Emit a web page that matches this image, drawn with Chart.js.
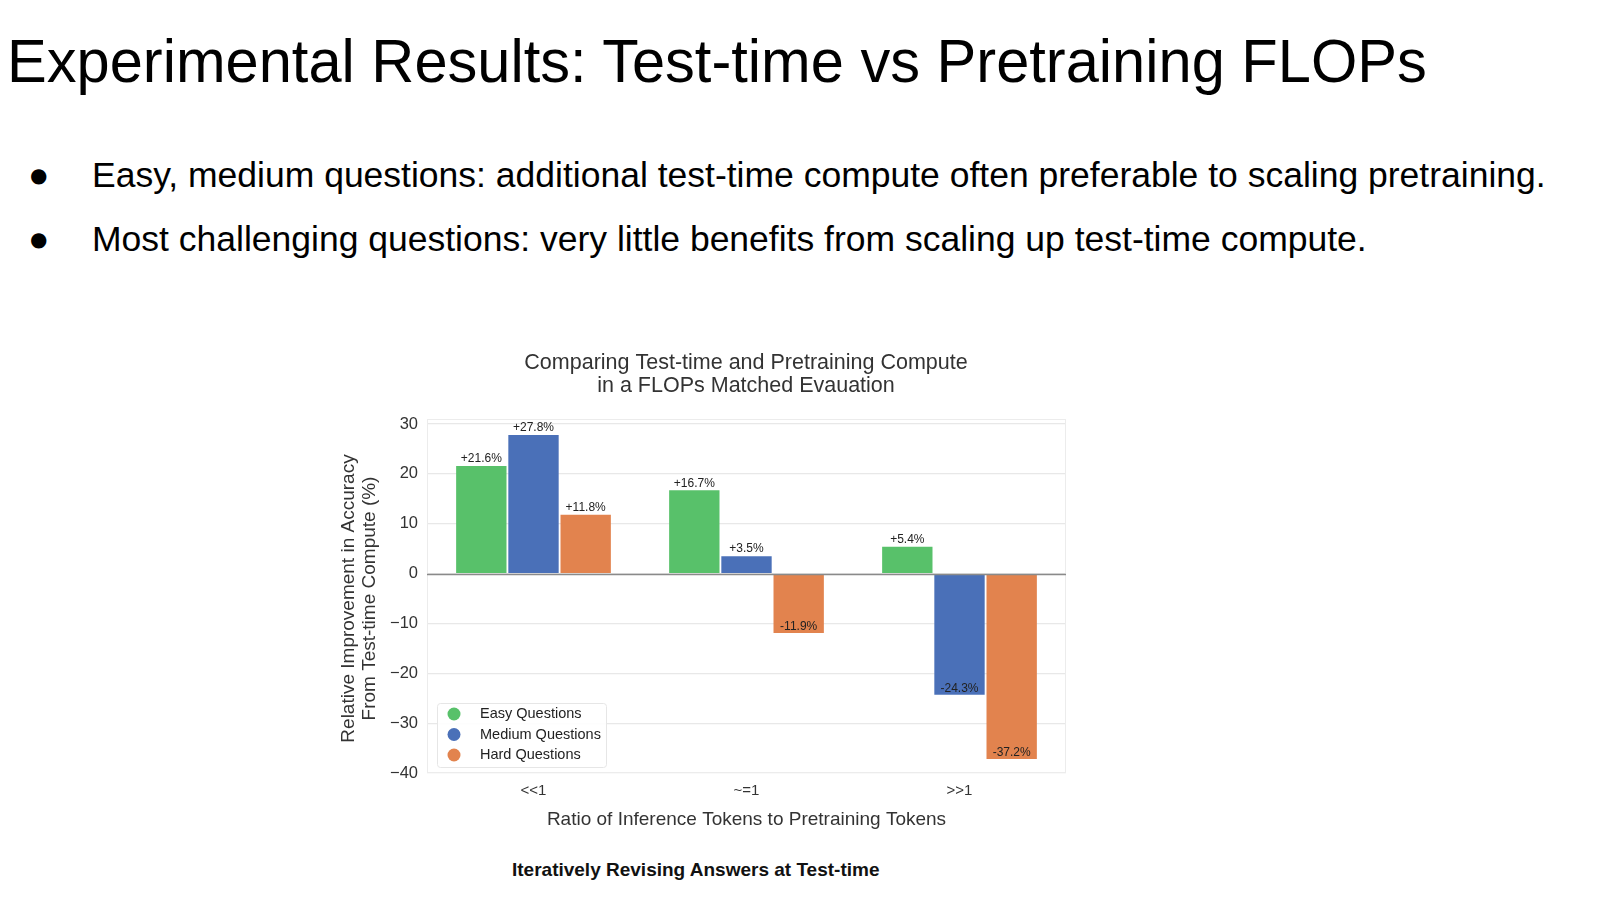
<!DOCTYPE html>
<html>
<head>
<meta charset="utf-8">
<script src="https://cdn.jsdelivr.net/npm/chart.js@4.4.1/dist/chart.umd.min.js"></script>
<style>
  html, body { margin:0; padding:0; background:#fff; width:1600px; height:899px; overflow:hidden; font-family:"Liberation Sans", Arial, sans-serif; color:#000; }
  .abs { position:absolute; white-space:nowrap; line-height:1; }
  #title { left:7px; top:31px; font-size:61px; transform-origin:0 0; transform:scaleX(0.977); }
  .bullet { left:28px; font-size:35.5px; transform-origin:0 0; }
  .bullet .dot { display:inline-block; width:64px; }
  #chartBox { position:absolute; left:330px; top:340px; width:832px; height:513px; }
  #caption { left:512px; top:860px; font-size:19px; font-weight:bold; color:#111; }
</style>
</head>
<body>
<div id="title" class="abs">Experimental Results: Test-time vs Pretraining FLOPs</div>
<div class="abs bullet" style="top:158px"><span class="dot">●</span>Easy, medium questions: additional test-time compute often preferable to scaling pretraining.</div>
<div class="abs bullet" style="top:222px"><span class="dot">●</span>Most challenging questions: very little benefits from scaling up test-time compute.</div>
<div id="chartBox"><canvas id="c"></canvas></div>
<div id="caption" class="abs">Iteratively Revising Answers at Test-time</div>
<script>
const categories = ["<<1", "~=1", ">>1"];
const easyValues = [21.6, 16.7, 5.4];
const mediumValues = [27.8, 3.5, -24.3];
const hardValues = [11.8, -11.9, -37.2];
const seriesLabels = ["Easy Questions", "Medium Questions", "Hard Questions"];
const seriesColors = ["#58c16a", "#4a70b8", "#e2834e"];
const yTicks = [-40, -30, -20, -10, 0, 10, 20, 30];
const chartTitle = ["Comparing Test-time and Pretraining Compute", "in a FLOPs Matched Evauation"];
const yTitle = ["Relative Improvement in Accuracy", "From Test-time Compute (%)"];
const xTitle = "Ratio of Inference Tokens to Pretraining Tokens";

const FONT = "'Liberation Sans', Arial, sans-serif";

const extrasPlugin = {
  id: 'extras',
  beforeDatasetsDraw(chart) {
    const {ctx, chartArea: a} = chart;
    ctx.save();
    ctx.strokeStyle = '#ececec';
    ctx.lineWidth = 1;
    ctx.strokeRect(a.left + 0.5, a.top - 4.5, a.right - a.left - 1, a.bottom - a.top + 4);
    ctx.restore();
  },
  afterDatasetsDraw(chart) {
    const {ctx, chartArea: a, scales: {y}} = chart;
    ctx.save();
    // zero line
    const y0 = Math.round(y.getPixelForValue(0)) + 0.5;
    ctx.strokeStyle = '#8a8a8a';
    ctx.lineWidth = 1.5;
    ctx.beginPath(); ctx.moveTo(a.left, y0); ctx.lineTo(a.right, y0); ctx.stroke();
    // data labels
    ctx.font = "12px " + FONT;
    ctx.fillStyle = '#222';
    ctx.textAlign = 'center';
    chart.data.datasets.forEach((ds, di) => {
      const meta = chart.getDatasetMeta(di);
      meta.data.forEach((bar, i) => {
        const v = ds.data[i];
        const txt = (v > 0 ? '+' : '') + v.toFixed(1) + '%';
        if (v >= 0) { ctx.textBaseline = 'bottom'; ctx.fillText(txt, bar.x, bar.y - 1); }
        else { ctx.textBaseline = 'middle'; ctx.fillText(txt, bar.x, bar.y - 6); }
      });
    });
    // legend inside plot, lower left
    const lx = a.left + 10, ly = a.bottom - 70, lw = 169, lh = 64;
    ctx.fillStyle = 'rgba(255,255,255,0.9)';
    ctx.strokeStyle = '#e6e6e6';
    ctx.lineWidth = 1;
    ctx.beginPath();
    if (ctx.roundRect) ctx.roundRect(lx + 0.5, ly + 0.5, lw, lh, 3); else ctx.rect(lx + 0.5, ly + 0.5, lw, lh);
    ctx.fill(); ctx.stroke();
    ctx.font = "14.5px " + FONT;
    ctx.textAlign = 'left';
    ctx.textBaseline = 'middle';
    chart.data.datasets.forEach((ds, di) => {
      const cy = ly + 11 + di * 20.5;
      ctx.fillStyle = ds.backgroundColor;
      ctx.beginPath(); ctx.arc(lx + 17, cy, 6.5, 0, Math.PI * 2); ctx.fill();
      ctx.fillStyle = '#222';
      ctx.fillText(ds.label, lx + 43, cy);
    });
    ctx.restore();
  }
};

new Chart(document.getElementById('c'), {
  type: 'bar',
  data: {
    labels: categories,
    datasets: [
      { label: seriesLabels[0], data: easyValues, backgroundColor: seriesColors[0] },
      { label: seriesLabels[1], data: mediumValues, backgroundColor: seriesColors[1] },
      { label: seriesLabels[2], data: hardValues, backgroundColor: seriesColors[2] }
    ]
  },
  options: {
    responsive: true,
    maintainAspectRatio: false,
    animation: false,
    datasets: { bar: { categoryPercentage: 0.735, barPercentage: 0.965, borderWidth: 0 } },
    layout: { padding: { top: 10, right: 0, left: 0, bottom: 0 } },
    plugins: {
      legend: { display: false },
      tooltip: { enabled: false },
      title: {
        display: true, text: chartTitle, color: '#333',
        font: { family: FONT, size: 21.5, weight: 'normal', lineHeight: 1.07 },
        padding: { top: 2, bottom: 26 }
      }
    },
    scales: {
      x: {
        grid: { display: false, drawTicks: false },
        border: { display: false },
        ticks: { color: '#333', font: { family: FONT, size: 15 }, padding: 9 },
        title: { display: true, text: xTitle, color: '#333', font: { family: FONT, size: 19 }, padding: { top: 0, bottom: 22 } },
        afterFit(s) { s.height = 80; }
      },
      y: {
        min: -40, max: 30,
        afterBuildTicks(s) { s.ticks = yTicks.map(v => ({ value: v })); },
        grid: { color: '#e8e8e8', lineWidth: 1.2, drawTicks: false },
        border: { display: false },
        ticks: { color: '#333', font: { family: FONT, size: 16.5 }, padding: 9,
                 callback: (v) => String(v).replace('-', '\u2212') },
        title: { display: true, text: yTitle, color: '#333', font: { family: FONT, size: 19, lineHeight: 1.1 }, padding: { top: 8, bottom: 0 } },
        afterFit(s) { s.width = 97; }
      },
      yRight: {
        position: 'right',
        display: true,
        grid: { display: false, drawTicks: false },
        border: { display: false },
        ticks: { display: false },
        afterFit(s) { s.width = 96; }
      }
    }
  },
  plugins: [extrasPlugin]
});
</script>
</body>
</html>
